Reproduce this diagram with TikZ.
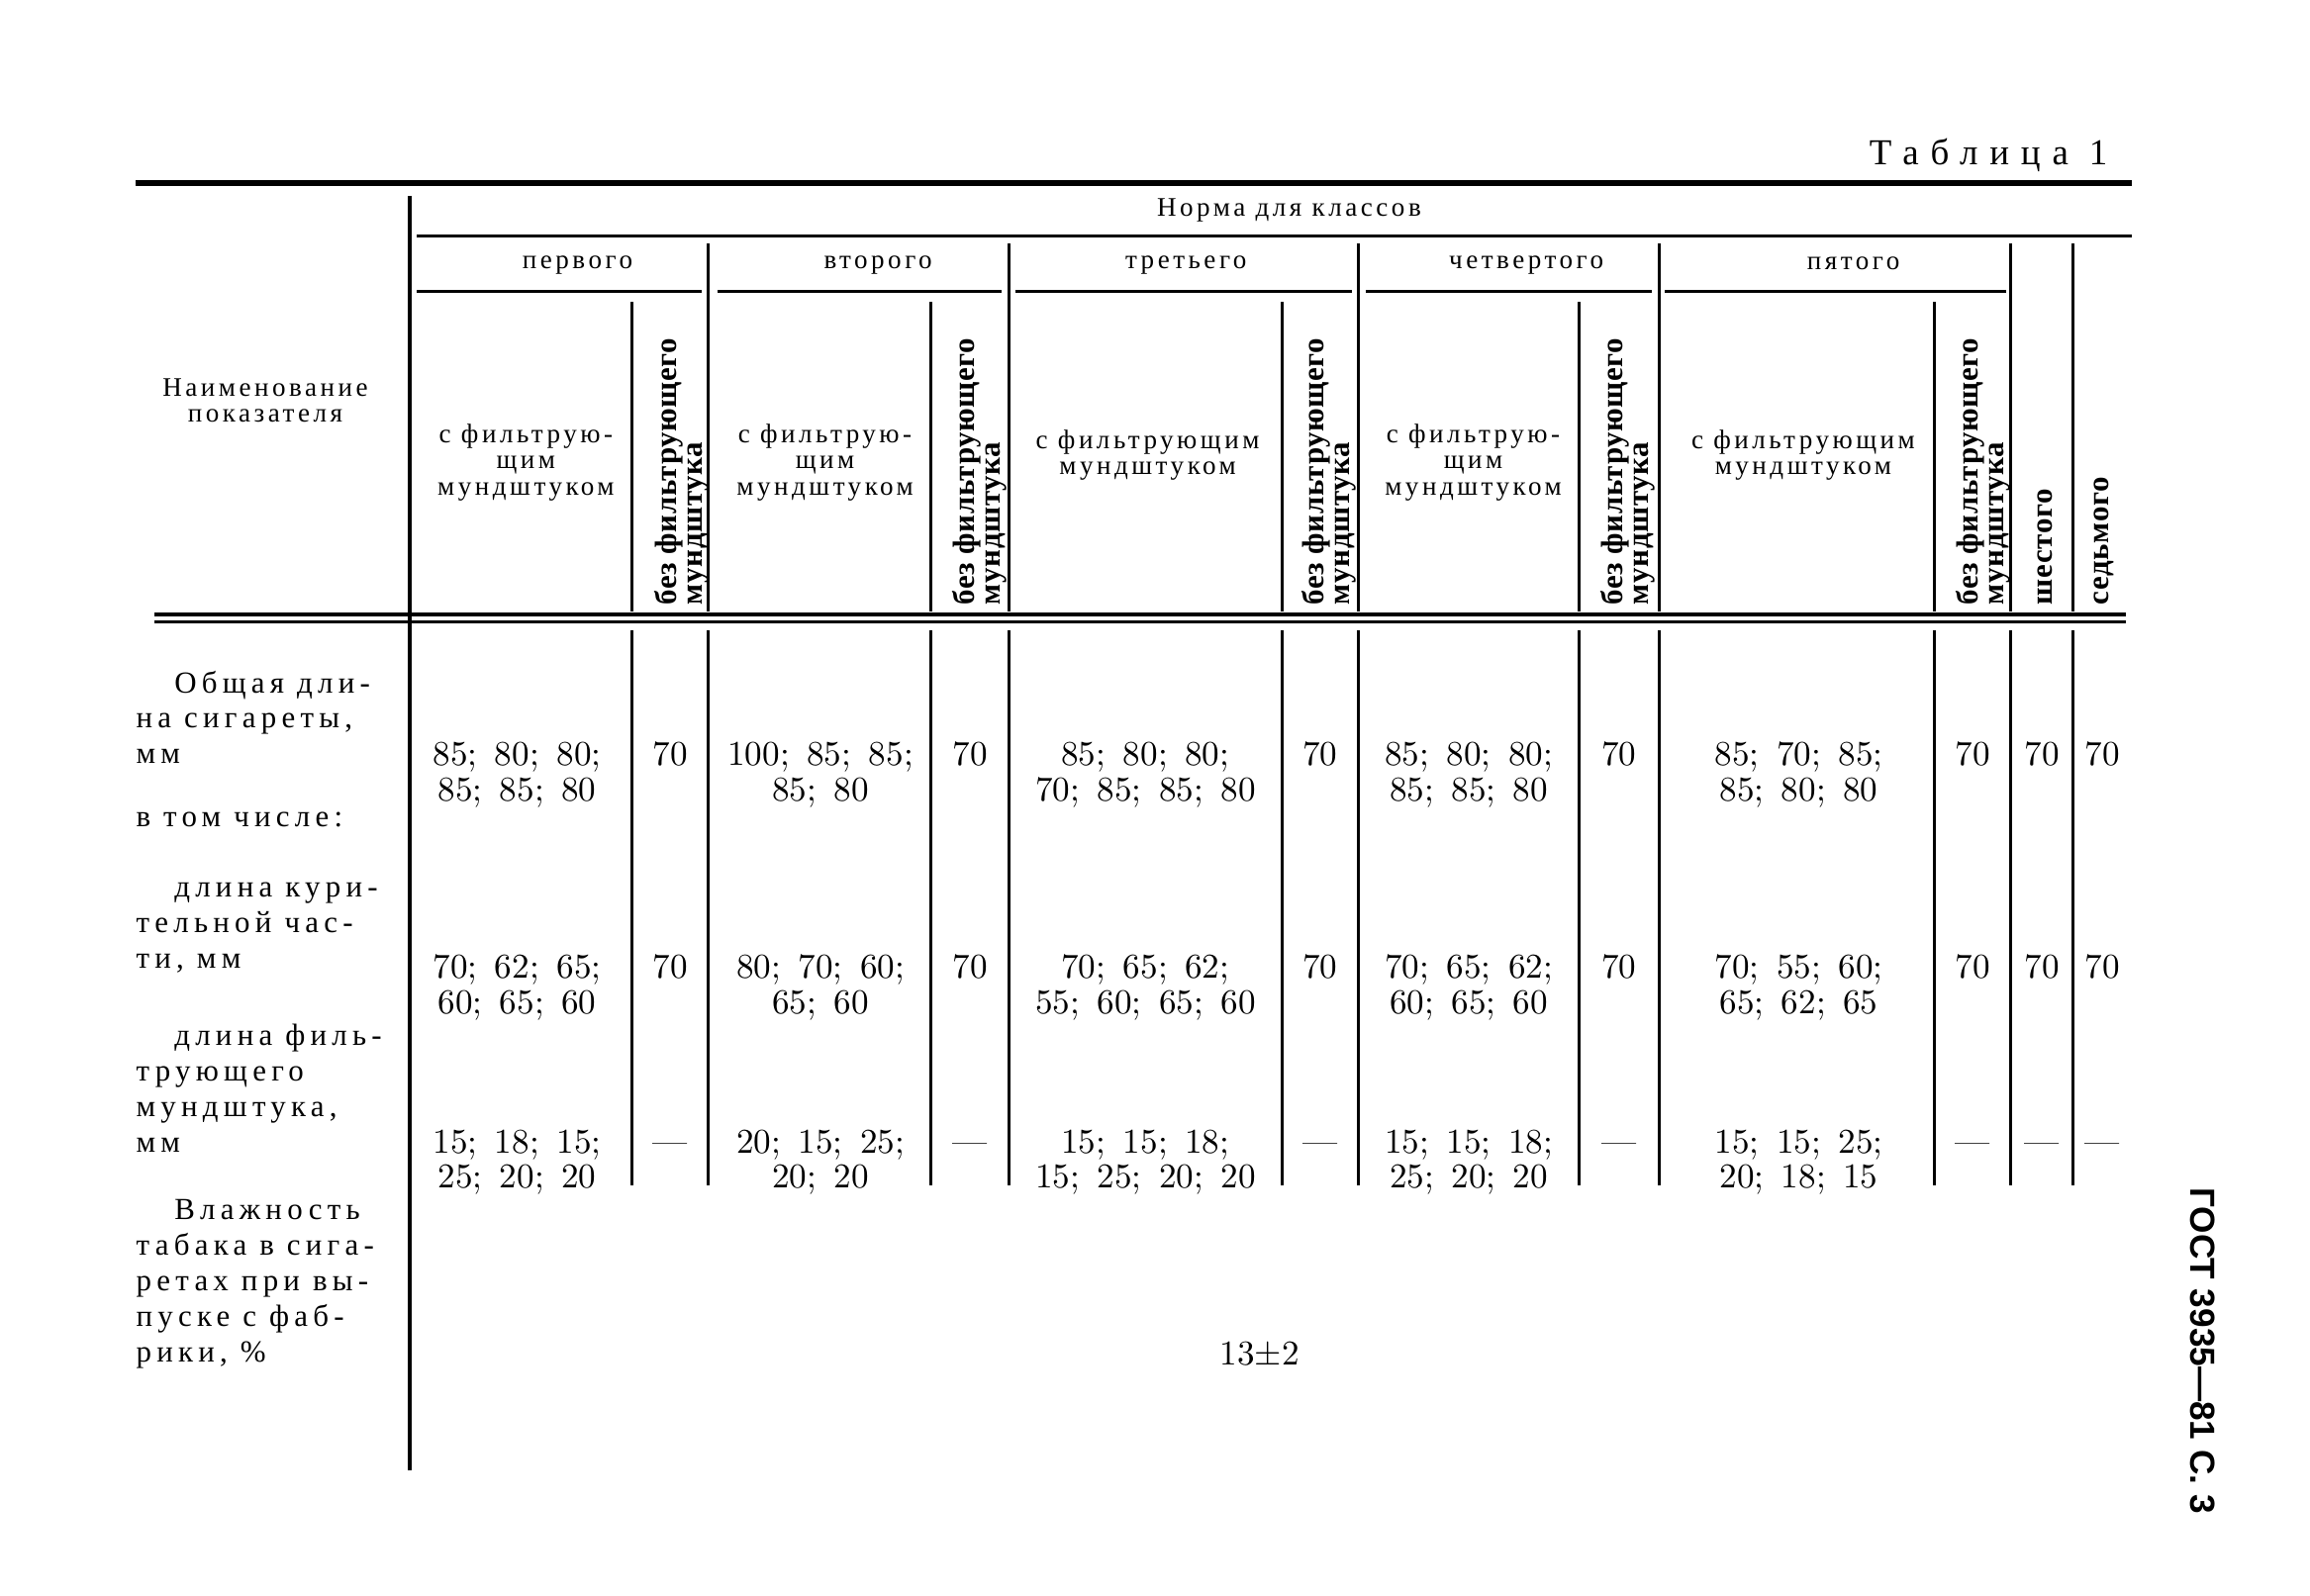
\documentclass[tikz,border=0pt]{standalone}
\usepackage{fontspec}
\newfontfamily\hdfont{Liberation Serif}[LetterSpace=13]
\newfontfamily\stubfont{Liberation Serif}[LetterSpace=17]
\newfontfamily\titlefont{Liberation Serif}[LetterSpace=32]
\newfontfamily\vertfont{Liberation Serif}[LetterSpace=2]
\newfontfamily\valfont{lmroman10-regular.otf}[WordSpace=1.5]
\newfontfamily\gostfont{Liberation Sans}

\tikzset{
  toprule/.style={line width=0.6mm},
  thinrule/.style={line width=0.3mm},
  stubrule/.style={line width=0.35mm},
  midrule/.style={line width=0.4mm},
  hdtext/.style={font=\hdfont\fontsize{7.7}{7.6}\selectfont, align=center, inner sep=0pt},
  stubtext/.style={font=\stubfont\fontsize{8.8}{10.2}\selectfont, align=left, inner sep=0pt, anchor=north west},
  valtext/.style={font=\valfont\fontsize{10}{10.2}\selectfont, align=center, inner sep=0pt, anchor=north},
  vtext/.style={font=\vertfont\bfseries\fontsize{8.8}{7.4}\selectfont, align=left, inner sep=0pt, rotate=90, anchor=west},
  titletext/.style={font=\titlefont\fontsize{10.5}{12}\selectfont, inner sep=0pt, anchor=base east},
  gosttext/.style={font=\gostfont\bfseries\fontsize{10}{12}\selectfont, inner sep=0pt, rotate=-90}
}

\begin{document}
\begin{tikzpicture}[x=0.14885mm, y=-0.14885mm]

    \useasboundingbox (0,0) rectangle (1568,1083);

    % --- Title ---
    \node[titletext] (tabtitle) at (1431,112) {Таблица 1};

    % --- Horizontal rules ---
    % Heavy top rule
    \draw[toprule] (92,124) -- (1447,124);
    % Rule under the class heading
    \draw[thinrule] (283,160) -- (1447,160);
    % Rules under the class names
    \draw[thinrule] (283,198) -- (476,198);
    \draw[thinrule] (487,198) -- (680,198);
    \draw[thinrule] (689,198) -- (918,198);
    \draw[thinrule] (927,198) -- (1121,198);
    \draw[thinrule] (1130,198) -- (1362,198);
    % Double rule closing the header
    \draw[midrule] (105,417.5) -- (1443,417.5);
    \draw[thinrule] (105,422) -- (1443,422);

    % --- Vertical rules ---
    % Stub divider, full height
    \draw[stubrule] (278,133) -- (278,998);
    % Class dividers in the header
    \draw[thinrule] (481,165) -- (481,415);
    \draw[thinrule] (685,165) -- (685,415);
    \draw[thinrule] (922,165) -- (922,415);
    \draw[thinrule] (1126,165) -- (1126,415);
    \draw[thinrule] (1365,165) -- (1365,415);
    \draw[thinrule] (1407,165) -- (1407,415);
    % Filter / no filter dividers in the header
    \draw[thinrule] (429,205) -- (429,415);
    \draw[thinrule] (632,205) -- (632,415);
    \draw[thinrule] (870,205) -- (870,415);
    \draw[thinrule] (1072,205) -- (1072,415);
    \draw[thinrule] (1313,205) -- (1313,415);
    % Column dividers in the body
    \draw[thinrule] (429,428) -- (429,805);
    \draw[thinrule] (481,428) -- (481,805);
    \draw[thinrule] (632,428) -- (632,805);
    \draw[thinrule] (685,428) -- (685,805);
    \draw[thinrule] (870,428) -- (870,805);
    \draw[thinrule] (922,428) -- (922,805);
    \draw[thinrule] (1072,428) -- (1072,805);
    \draw[thinrule] (1126,428) -- (1126,805);
    \draw[thinrule] (1313,428) -- (1313,805);
    \draw[thinrule] (1365,428) -- (1365,805);
    \draw[thinrule] (1407,428) -- (1407,805);

    % --- Header labels ---
    \node[hdtext] (stubhead) at (180,272) {Наименование\\показателя};
    \node[hdtext] (normhead) at (875,143) {Норма для классов};
    % Class names
    \node[hdtext] (cls1) at (392,180) {первого};
    \node[hdtext] (cls2) at (596,180) {второго};
    \node[hdtext] (cls3) at (805,180) {третьего};
    \node[hdtext] (cls4) at (1036,180) {четвертого};
    \node[hdtext] (cls5) at (1258,179) {пятого};
    % With filter
    \node[hdtext] (withf1) at (357,314) {с фильтрую-\\щим\\мундштуком};
    \node[hdtext] (withf2) at (560,314) {с фильтрую-\\щим\\мундштуком};
    \node[hdtext] (withf3) at (779,309) {с фильтрующим\\мундштуком};
    \node[hdtext] (withf4) at (1000,314) {с фильтрую-\\щим\\мундштуком};
    \node[hdtext] (withf5) at (1224,309) {с фильтрующим\\мундштуком};
    % Without filter (turned)
    \node[vtext] (nof1) at (463,411) {без фильтрующего\\мундштука};
    \node[vtext] (nof2) at (665,411) {без фильтрующего\\мундштука};
    \node[vtext] (nof3) at (902,411) {без фильтрующего\\мундштука};
    \node[vtext] (nof4) at (1105,411) {без фильтрующего\\мундштука};
    \node[vtext] (nof5) at (1346,411) {без фильтрующего\\мундштука};
    % Sixth and seventh classes (turned)
    \node[vtext] (cls6) at (1388,411) {шестого};
    \node[vtext] (cls7) at (1428,411) {седьмого};

    % --- Stub labels ---
    \node[stubtext] (rowtotal) at (92,455) {\hspace*{11pt}Общая дли-\\на сигареты,\\мм};
    \node[stubtext] (rowincl) at (92,551) {в том числе:};
    \node[stubtext] (rowsmoke) at (92,599) {\hspace*{11pt}длина кури-\\тельной час-\\ти, мм};
    \node[stubtext] (rowfilter) at (92,695) {\hspace*{11pt}длина филь-\\трующего\\мундштука,\\мм};
    \node[stubtext] (rowmoist) at (92,814) {\hspace*{11pt}Влажность\\табака в сига-\\ретах при вы-\\пуске с фаб-\\рики, \%};

    % --- Values: total length ---
    \node[valtext] (tot1) at (351,503.5) {85; 80; 80;\\85; 85; 80};
    \node[valtext] (tot2) at (455,503.5) {70};
    \node[valtext] (tot3) at (557,503.5) {100; 85; 85;\\85; 80};
    \node[valtext] (tot4) at (658.5,503.5) {70};
    \node[valtext] (tot5) at (777.5,503.5) {85; 80; 80;\\70; 85; 85; 80};
    \node[valtext] (tot6) at (896,503.5) {70};
    \node[valtext] (tot7) at (997,503.5) {85; 80; 80;\\85; 85; 80};
    \node[valtext] (tot8) at (1099,503.5) {70};
    \node[valtext] (tot9) at (1221,503.5) {85; 70; 85;\\85; 80; 80};
    \node[valtext] (tot10) at (1339,503.5) {70};
    \node[valtext] (tot11) at (1386,503.5) {70};
    \node[valtext] (tot12) at (1427,503.5) {70};

    % --- Values: smoking part ---
    \node[valtext] (smk1) at (351,647.5) {70; 62; 65;\\60; 65; 60};
    \node[valtext] (smk2) at (455,647.5) {70};
    \node[valtext] (smk3) at (557,647.5) {80; 70; 60;\\65; 60};
    \node[valtext] (smk4) at (658.5,647.5) {70};
    \node[valtext] (smk5) at (777.5,647.5) {70; 65; 62;\\55; 60; 65; 60};
    \node[valtext] (smk6) at (896,647.5) {70};
    \node[valtext] (smk7) at (997,647.5) {70; 65; 62;\\60; 65; 60};
    \node[valtext] (smk8) at (1099,647.5) {70};
    \node[valtext] (smk9) at (1221,647.5) {70; 55; 60;\\65; 62; 65};
    \node[valtext] (smk10) at (1339,647.5) {70};
    \node[valtext] (smk11) at (1386,647.5) {70};
    \node[valtext] (smk12) at (1427,647.5) {70};

    % --- Values: filter length ---
    \node[valtext] (flt1) at (351,766.5) {15; 18; 15;\\25; 20; 20};
    \node[valtext] (flt2) at (455,766.5) {\vphantom{0}—};
    \node[valtext] (flt3) at (557,766.5) {20; 15; 25;\\20; 20};
    \node[valtext] (flt4) at (658.5,766.5) {\vphantom{0}—};
    \node[valtext] (flt5) at (777.5,766.5) {15; 15; 18;\\15; 25; 20; 20};
    \node[valtext] (flt6) at (896,766.5) {\vphantom{0}—};
    \node[valtext] (flt7) at (997,766.5) {15; 15; 18;\\25; 20; 20};
    \node[valtext] (flt8) at (1099,766.5) {\vphantom{0}—};
    \node[valtext] (flt9) at (1221,766.5) {15; 15; 25;\\20; 18; 15};
    \node[valtext] (flt10) at (1339,766.5) {\vphantom{0}—};
    \node[valtext] (flt11) at (1386,766.5) {\vphantom{0}—};
    \node[valtext] (flt12) at (1427,766.5) {\vphantom{0}—};

    % --- Values: moisture ---
    \node[valtext] (moist) at (855,910.5) {13±2};

    % --- Side note ---
    \node[gosttext] (gost) at (1495,917) {ГОСТ 3935—81 С. 3};

\end{tikzpicture}
\end{document}
